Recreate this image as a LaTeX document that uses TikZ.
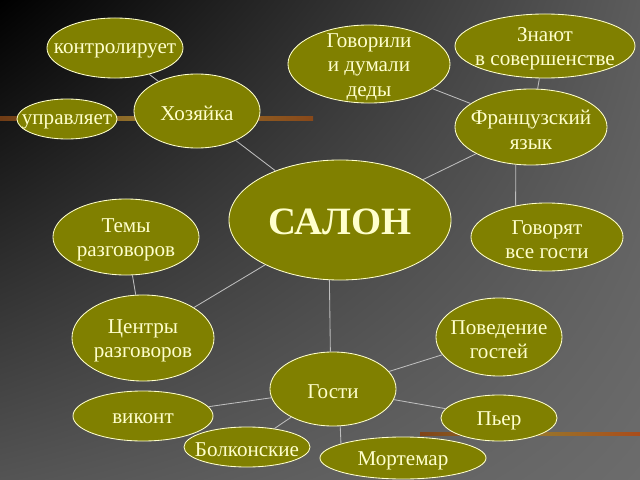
\documentclass[tikz,border=0pt]{standalone}
\usepackage{fontspec}
\setmainfont{Liberation Serif}
\usepackage{xcolor}
\usepackage{tikz}
\usetikzlibrary{shapes.geometric,shadings,positioning}

\definecolor{olivefill}{RGB}{128,128,0}
\definecolor{creamtext}{RGB}{255,255,204}
\definecolor{linkgray}{RGB}{190,190,190}
\definecolor{stripe}{RGB}{160,85,30}
\definecolor{stripemid}{RGB}{150,120,45}
\definecolor{bgtr}{RGB}{92,92,92}
\definecolor{bgbl}{RGB}{84,84,84}
\definecolor{bgbr}{RGB}{108,108,108}

\begin{document}
\begin{tikzpicture}[x=0.025cm, y=-0.025cm,
    bubble/.style 2 args={ellipse, draw=creamtext, line width=0.6pt, fill=olivefill,
        inner sep=0pt, minimum width=#1*0.05cm, minimum height=#2*0.05cm},
    txt/.style={text=creamtext, align=center, yshift=-2pt, font=\fontsize{15}{17.5}\selectfont},
    link/.style={draw=linkgray, line width=0.6pt}]
    % Background
    \shade[upper left=black, upper right=bgtr, lower left=bgbl, lower right=bgbr]
        (0,0) rectangle (640,480);
    \useasboundingbox (0,0) rectangle (640,480);
    \shade[left color=stripe!70!black, right color=stripe!85!black, middle color=stripemid] (0,116) rectangle (313,120);
    \shade[left color=stripe!80!black, right color=stripe!90!red, middle color=stripemid] (420,432.5) rectangle (640,435.5);

    % Nodes
    \node [bubble={68}{30}, label={[txt]center:контролирует}] (ctrl) at (115,48) {};
    \node [bubble={63}{37}, label={[txt]center:Хозяйка}] (host) at (197,111) {};
    \node [bubble={50}{20}, label={[txt]center:управляет}] (rule) at (67,119) {};
    \node [bubble={81}{39}, label={[txt]center:Говорили\\и думали\\деды}] (talked) at (369,64) {};
    \node [bubble={90}{32}, label={[txt]center:Знают\\в совершенстве}] (know) at (545,46) {};
    \node [bubble={76}{38}, label={[txt]center:Французский\\язык}] (french) at (531,127) {};
    \node [bubble={111}{60}, label={[txt, yshift=1pt, font=\bfseries\fontsize{27.5}{30}\selectfont]center:САЛОН}] (salon) at (340,220) {};
    \node [bubble={73}{38}, label={[txt]center:Темы\\разговоров}] (topics) at (126,237) {};
    \node [bubble={76}{34}, label={[txt]center:Говорят\\все гости}] (allspeak) at (547,237) {};
    \node [bubble={71}{43}, label={[txt]center:Центры\\разговоров}] (centres) at (143,338) {};
    \node [bubble={63}{39}, label={[txt]center:Поведение\\гостей}] (manner) at (499,337) {};
    \node [bubble={63}{37}, label={[txt]center:Гости}] (guests) at (333,389) {};
    \node [bubble={70}{25}, label={[txt]center:виконт}] (vicomte) at (143,416) {};
    \node [bubble={58}{23}, label={[txt]center:Пьер}] (pierre) at (499,418) {};
    \node [bubble={63}{20}, label={[txt]center:Болконские}] (bolk) at (247,447) {};
    \node [bubble={83}{21}, label={[txt]center:Мортемар}] (mort) at (403,458) {};

    % Path
    \draw [link] (ctrl) -- (host);
    \draw [link] (host) -- (salon);
    \draw [link] (talked) -- (french);
    \draw [link] (know) -- (french);
    \draw [link] (french) -- (salon);
    \draw [link] (french.248) -- (allspeak.135);
    \draw [link] (topics) -- (centres);
    \draw [link] (salon) -- (centres);
    \draw [link] (salon.260.5) -- (guests.94.6);
    \draw [link] (guests) -- (manner);
    \draw [link] (guests) -- (vicomte);
    \draw [link] (guests) -- (bolk);
    \draw [link] (guests) -- (pierre);
    \draw [link] (guests.281) -- (mort.167.7);
\end{tikzpicture}
\end{document}
